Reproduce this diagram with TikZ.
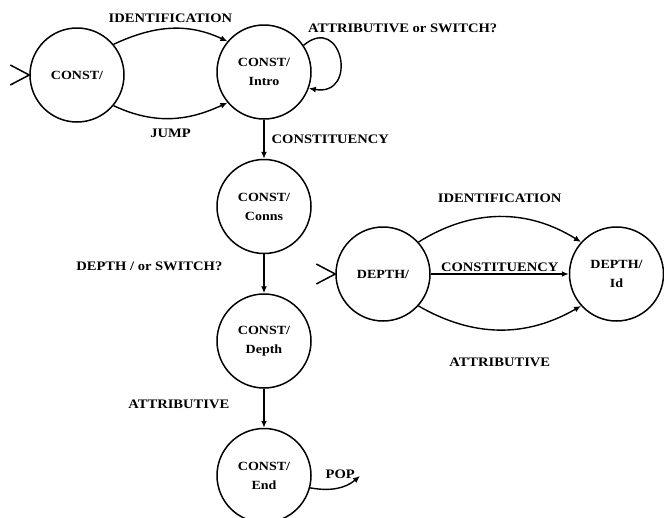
\documentclass[tikz,border=0pt]{standalone}
\usepackage{fontspec}
\setmainfont{Liberation Serif}[FakeStretch=1.12]
\usetikzlibrary{positioning,arrows.meta,calc}

\begin{document}
\begin{tikzpicture}[x=1pt,y=-1pt,
  state/.style={circle,draw,line width=1.5pt,minimum size=94pt,inner sep=0pt,
    align=center,font=\bfseries\fontsize{12.5}{19}\selectfont},
  lbl/.style={font=\bfseries\fontsize{13}{14}\selectfont,inner sep=1pt},
  every edge/.style={draw,line width=1.4pt},
  >={Latex[length=7pt,width=6pt]},
  node distance=39pt]

  \useasboundingbox (0,0) rectangle (664,517);

  \node[state] (c0) at (77,75) {CONST/};
  \node[state] (c1) at (264,72) {CONST/\\Intro};
  \node[state] (c2) [below=of c1] {CONST/\\Conns};
  \node[state] (c3) [below=of c2] {CONST/\\Depth};
  \node[state] (c4) [below=of c3] {CONST/\\End};

  \node[state] (d0) at (383,274) {DEPTH/};
  \node[state] (d1) [right=138pt of d0] {DEPTH/\\Id};

  \coordinate (pop) at (360,476);

  % start marks
  \draw[line width=1.5pt] ($(c0.west)+(-19,-10)$) -- (c0.west) -- ($(c0.west)+(-19,10)$);
  \draw[line width=1.5pt] ($(d0.west)+(-19,-10)$) -- (d0.west) -- ($(d0.west)+(-19,10)$);

  \path[->] (c0.40) edge[out=25,in=155] node[lbl,above=4pt] {IDENTIFICATION} (c1.140);
  \path[->] (c0.-40) edge[out=-25,in=-155] node[lbl,below=9pt] {JUMP} (c1.-140);
  \path[->] (c1.34) edge[out=40,in=-10,looseness=3]
    node[lbl,pos=0.08,anchor=south west,xshift=-6pt,yshift=5pt] {ATTRIBUTIVE or SWITCH?} (c1.-20);
  \path[->] (c1) edge node[lbl,right=6pt] {CONSTITUENCY} (c2);
  \path[->] (c2) edge node[lbl,left=40pt,pos=0.3] {DEPTH / or SWITCH?} (c3);
  \path[->] (c3) edge node[lbl,left=33pt,pos=0.4] {ATTRIBUTIVE} (c4);
  \path[->] (c4.-15) edge[out=-10,in=-140] node[lbl,pos=0.75,above left=3pt and -8pt] {POP} (pop);

  \path[->] (d0.42) edge[out=32,in=148] node[lbl,above=13pt] {IDENTIFICATION} (d1.138);
  \path[->] (d0) edge node[lbl,above=1pt] {CONSTITUENCY} (d1);
  \path[->] (d0.-42) edge[out=-30,in=-150] node[lbl,below=26pt] {ATTRIBUTIVE} (d1.-138);

\end{tikzpicture}
\end{document}
